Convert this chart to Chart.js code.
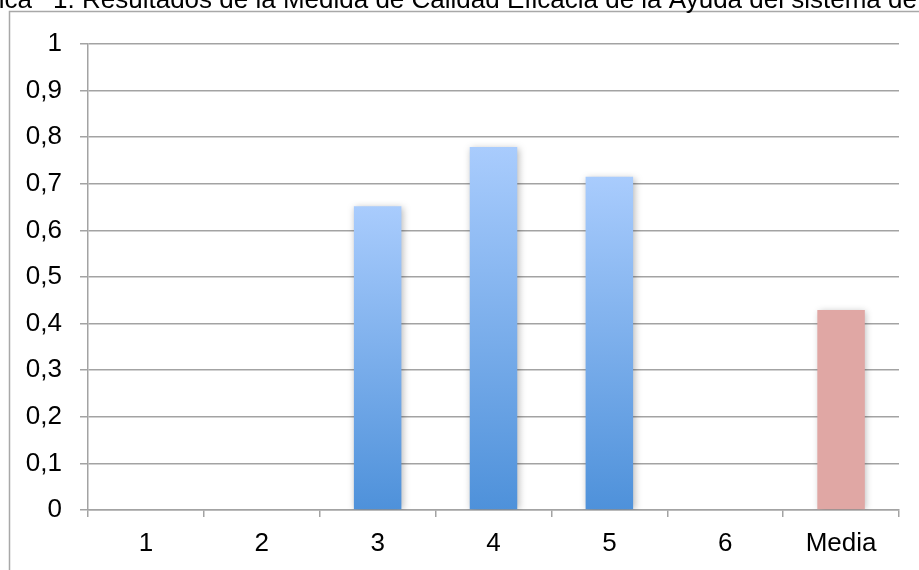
<!DOCTYPE html>
<html>
<head>
<meta charset="utf-8">
<script src="https://cdn.jsdelivr.net/npm/chart.js@4"></script>
<style>
  html, body { margin: 0; padding: 0; background: #fff; overflow: hidden; }
  #wrap { position: relative; width: 919px; height: 570px; }
</style>
</head>
<body>
<div id="wrap"><canvas id="c" width="919" height="570"></canvas></div>
<script>
const categories = ['1', '2', '3', '4', '5', '6', 'Media'];
const values = [0, 0, 0.652, 0.779, 0.715, 0, 0.429];
const yTicks = [0, 0.1, 0.2, 0.3, 0.4, 0.5, 0.6, 0.7, 0.8, 0.9, 1];
const titleParts = ['Gráfica', '1.', 'Resultados de la Medida de Calidad Eficacia de la Ayuda del sistema de ayuda'];

const FONT = '"Liberation Sans", Arial, sans-serif';
const GRID = '#a3a3a3';
const FS = 26;

const framePlugin = {
  id: 'frame',
  beforeDraw(chart) {
    const c = chart.ctx;
    c.save();
    c.fillStyle = '#fff';
    c.fillRect(0, 0, chart.width, chart.height);
    c.strokeStyle = '#a8a8a8';
    c.lineWidth = 1.5;
    c.beginPath();
    c.moveTo(9.5, chart.height + 2);
    c.lineTo(9.5, 11.5);
    c.lineTo(chart.width + 2, 11.5);
    c.stroke();
    // title (cut by the page edges, as in the source)
    c.fillStyle = '#000';
    c.font = FS + 'px ' + FONT;
    c.textBaseline = 'alphabetic';
    c.textAlign = 'right';
    c.fillText(titleParts[0], 32, 7.5);
    c.textAlign = 'left';
    c.fillText(titleParts[1], 53, 7.5);
    c.fillText(titleParts[2], 82, 7.5);
    c.restore();
  }
};

const shadowPlugin = {
  id: 'barShadow',
  beforeDatasetsDraw(chart) {
    const c = chart.ctx;
    c.save();
    c.shadowColor = 'rgba(0,0,0,0.28)';
    c.shadowBlur = 7;
    c.shadowOffsetX = 1.5;
    c.shadowOffsetY = 1;
  },
  afterDatasetsDraw(chart) {
    chart.ctx.restore();
  }
};

new Chart(document.getElementById('c'), {
  type: 'bar',
  data: {
    labels: categories,
    datasets: [{
      data: values,
      borderWidth: 0,
      barPercentage: 0.41,
      categoryPercentage: 1,
      backgroundColor: (ctx) => {
        if (ctx.dataIndex === categories.length - 1) return '#e0a7a4';
        const chart = ctx.chart;
        const y = chart.scales && chart.scales.y;
        if (!chart.chartArea || !y || ctx.raw == null) return '#7fb0ee';
        const y0 = y.getPixelForValue(0);
        const y1 = y.getPixelForValue(ctx.raw);
        if (!isFinite(y0) || !isFinite(y1) || y0 === y1) return '#7fb0ee';
        const g = chart.ctx.createLinearGradient(0, y1, 0, y0);
        g.addColorStop(0, '#a9ccfd');
        g.addColorStop(1, '#4e91da');
        return g;
      }
    }]
  },
  options: {
    responsive: false,
    animation: false,
    layout: { padding: { left: 0, top: 44, right: 20, bottom: 0 } },
    plugins: {
      legend: { display: false },
      tooltip: { enabled: false },
      title: { display: false }
    },
    scales: {
      x: {
        offset: true,
        grid: {
          offset: true,
          drawOnChartArea: false,
          drawTicks: true,
          tickLength: 7,
          color: GRID,
          lineWidth: 1.5
        },
        border: { display: true, color: GRID, width: 1.5 },
        ticks: {
          color: '#000',
          font: { family: FONT, size: FS },
          padding: 11,
          maxRotation: 0
        },
        afterFit(scale) { scale.height = 60; }
      },
      y: {
        min: 0,
        max: 1,
        afterBuildTicks(scale) { scale.ticks = yTicks.map(v => ({ value: v })); },
        grid: {
          color: GRID,
          lineWidth: 1.5,
          drawTicks: true,
          tickLength: 8
        },
        border: { display: true, color: GRID, width: 1.5 },
        ticks: {
          color: '#000',
          font: { family: FONT, size: FS },
          padding: 18,
          callback: (v) => {
            const r = Math.round(v * 10) / 10;
            return (r === 0 || r === 1) ? String(r) : r.toFixed(1).replace('.', ',');
          }
        },
        afterFit(scale) { scale.width = 88; }
      }
    }
  },
  plugins: [framePlugin, shadowPlugin]
});
</script>
</body>
</html>
